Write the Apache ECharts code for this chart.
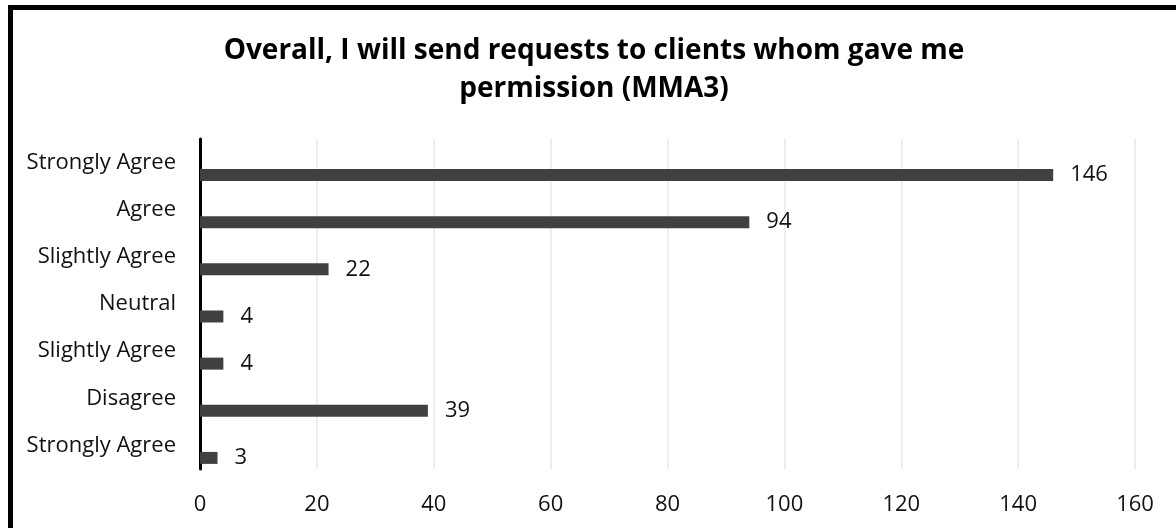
<!DOCTYPE html>
<html>
<head>
<meta charset="utf-8">
<script src="https://cdn.jsdelivr.net/npm/echarts@6/dist/echarts.min.js"></script>
<style>
  html, body { margin: 0; padding: 0; background: #fff; }
  #main { width: 1176px; height: 528px; }
</style>
</head>
<body>
<div id="main"></div>
<script>
// answers, top to bottom as in the picture
const categories = ['Strongly Agree', 'Agree', 'Slightly Agree', 'Neutral', 'Slightly Agree', 'Disagree', 'Strongly Agree']
const counts = [146, 94, 22, 4, 4, 39, 3]
const xTicks = [0, 20, 40, 60, 80, 100, 120, 140, 160]

const chart = echarts.init(document.getElementById('main'))
const font = "'Open Sans', sans-serif"

const option = {
  backgroundColor: '#fff',
  animation: false,
  title: {
    text: 'Overall, I will send requests to clients whom gave me\npermission (MMA3)',
    left: 589,
    top: 27,
    textAlign: 'center',
    textStyle: {
      fontFamily: font,
      fontWeight: 'bold',
      fontSize: 28,
      lineHeight: 38,
      color: '#000'
    }
  },
  graphic: [
    {
      // frame, only top and left edges are inside the picture
      type: 'rect',
      shape: { x: 10.5, y: 7.5, width: 1300, height: 700 },
      style: { fill: 'none', stroke: '#000', lineWidth: 5 },
      z: 10
    }
  ],
  grid: { left: 200, right: 41, top: 139, bottom: 59 },
  xAxis: {
    type: 'value',
    min: xTicks[0],
    max: xTicks[xTicks.length - 1],
    interval: xTicks[1] - xTicks[0],
    axisLine: { show: false },
    axisTick: { show: false },
    splitLine: { lineStyle: { color: '#e9e9e9', width: 1.5 } },
    axisLabel: { margin: 25, fontFamily: font, fontSize: 22, color: '#111' }
  },
  yAxis: {
    type: 'category',
    inverse: true,
    data: categories.map((c, i) => i),
    axisLine: { lineStyle: { color: '#000', width: 3 } },
    axisTick: { show: false },
    axisLabel: {
      margin: 24,
      fontFamily: font,
      fontSize: 22,
      color: '#111',
      formatter: (v, i) => categories[i]
    }
  },
  series: [
    {
      // empty spacer so the real bars sit low in each band
      type: 'bar',
      barWidth: 12,
      barGap: '108%',
      data: categories.map(() => null),
      silent: true
    },
    {
      type: 'bar',
      barWidth: 12,
      data: counts,
      itemStyle: { color: '#404040' },
      label: {
        show: true,
        position: 'right',
        distance: 17,
        fontFamily: font,
        fontSize: 22,
        color: '#111'
      }
    }
  ]
}

chart.setOption(option)
</script>
</body>
</html>
